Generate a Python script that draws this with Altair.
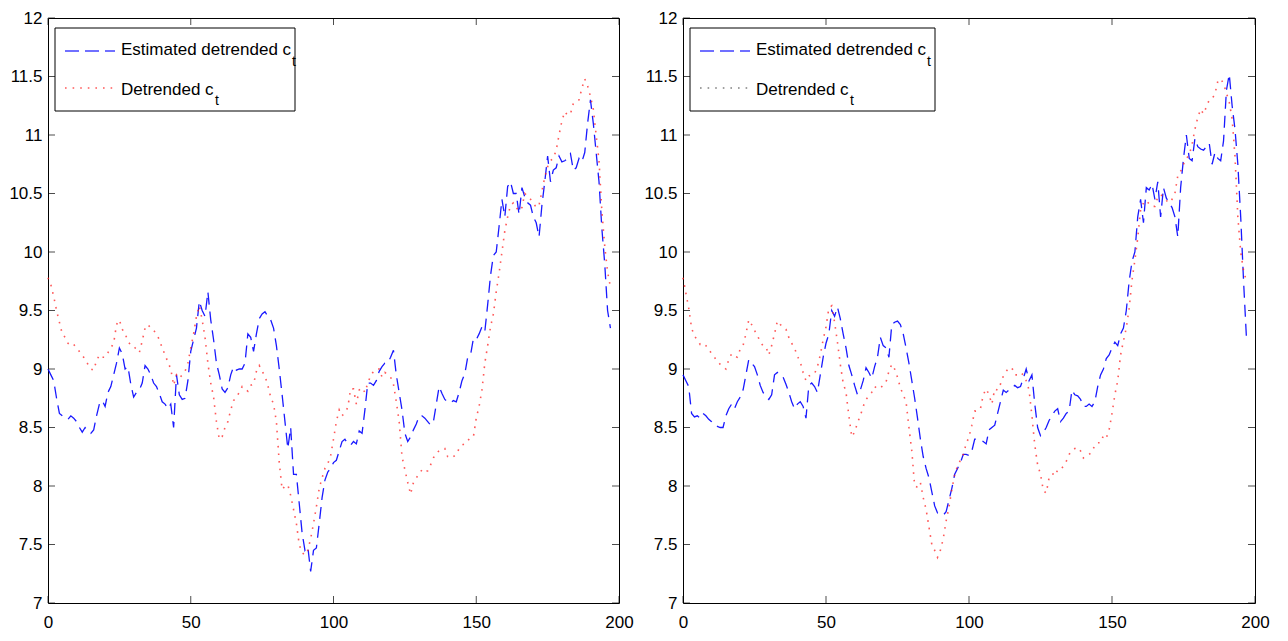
import altair as alt
import pandas as pd

x_idx = list(range(198))

p1_est = [
    9.0, 8.95, 8.9, 8.75, 8.62, 8.6, 8.58, 8.57, 8.6, 8.58,
    8.55, 8.5, 8.46, 8.5, 8.47, 8.45, 8.48, 8.6, 8.7, 8.73,
    8.68, 8.8, 8.85, 8.95, 9.05, 9.18, 9.13, 9.0, 9.02, 8.87,
    8.76, 8.8, 8.82, 8.88, 9.03, 9.0, 8.95, 8.88, 8.85, 8.79,
    8.72, 8.7, 8.66, 8.7, 8.5, 8.95, 8.78, 8.74, 8.75, 8.9,
    9.15, 9.25, 9.35, 9.58, 9.5, 9.45, 9.66, 9.42, 9.25, 9.05,
    8.95, 8.83, 8.8, 8.84, 8.95, 9.02, 8.99, 9.0, 9.0, 9.05,
    9.3, 9.27, 9.15, 9.3, 9.43, 9.47, 9.49, 9.45, 9.42, 9.35,
    9.2, 9.0, 8.78, 8.55, 8.32, 8.5, 8.1, 8.1, 7.85, 7.6,
    7.45, 7.48, 7.27, 7.45, 7.47, 7.68, 7.9, 8.05, 8.12, 8.15,
    8.2, 8.22, 8.3, 8.38, 8.4, 8.36, 8.35, 8.38, 8.36, 8.47,
    8.45, 8.65, 8.88, 8.88, 8.86, 8.9, 8.98, 9.02, 9.05, 9.05,
    9.1, 9.16, 8.95, 8.8, 8.65, 8.45, 8.38, 8.42, 8.48, 8.53,
    8.6, 8.6, 8.58, 8.55, 8.52, 8.55, 8.7, 8.85, 8.79, 8.74,
    8.72, 8.71, 8.73, 8.72, 8.8, 8.9, 8.96, 9.1, 9.12, 9.26,
    9.25, 9.3, 9.36, 9.32, 9.55, 9.8, 9.97, 10.0, 10.22, 10.45,
    10.3, 10.56, 10.6, 10.5, 10.5, 10.32, 10.55, 10.47, 10.42, 10.4,
    10.3, 10.25, 10.13, 10.4, 10.6, 10.82, 10.6, 10.7, 10.72, 10.82,
    10.77, 10.78, 10.8, 10.84, 10.7, 10.72, 10.8, 10.77, 10.85, 11.1,
    11.3, 11.1, 10.85, 10.6, 10.2, 9.9, 9.5, 9.35,
]

p1_det = [
    9.78, 9.72, 9.62, 9.5, 9.4, 9.3, 9.27, 9.22, 9.2, 9.21,
    9.18, 9.15, 9.12, 9.08, 9.04, 9.0, 8.99, 9.07, 9.12, 9.1,
    9.1, 9.14, 9.18, 9.22, 9.38, 9.42, 9.34, 9.3, 9.24, 9.2,
    9.19, 9.17, 9.14, 9.24, 9.35, 9.38, 9.35, 9.33, 9.3, 9.25,
    9.18, 9.12, 9.06, 9.0, 8.86, 8.95, 8.92, 8.95, 8.98, 9.05,
    9.18, 9.3, 9.45, 9.54, 9.42, 9.27, 9.05, 8.88, 8.76, 8.55,
    8.4, 8.42, 8.5, 8.55, 8.65, 8.73, 8.76, 8.8, 8.85, 8.83,
    8.81, 8.86, 8.87, 8.98, 9.03, 8.98, 8.94, 8.86, 8.76, 8.7,
    8.55, 8.2, 7.97, 8.0, 8.01, 7.92, 7.8, 7.68, 7.5, 7.43,
    7.41, 7.45, 7.55, 7.68, 7.82, 7.98, 8.07, 8.15, 8.19, 8.26,
    8.4, 8.55, 8.65, 8.6, 8.63, 8.67, 8.83, 8.83, 8.7, 8.82,
    8.84, 8.8, 8.88, 8.94, 8.98, 9.0, 9.0, 8.93, 8.97, 8.95,
    8.93, 8.87, 8.72, 8.55, 8.25, 8.14, 8.03, 7.93, 8.03, 8.07,
    8.1, 8.14, 8.12, 8.13, 8.18, 8.24, 8.28, 8.3, 8.31, 8.32,
    8.25, 8.24, 8.25, 8.27, 8.32, 8.35, 8.36, 8.39, 8.41, 8.42,
    8.58, 8.68, 8.82, 9.05, 9.2, 9.36, 9.47, 9.66, 9.82, 10.0,
    10.18, 10.3, 10.4, 10.42, 10.38, 10.35, 10.38, 10.5, 10.48, 10.45,
    10.42, 10.38, 10.4, 10.52, 10.64, 10.73, 10.78, 10.8, 10.87, 11.0,
    11.12, 11.2, 11.17, 11.18, 11.27, 11.28, 11.3, 11.4, 11.48, 11.42,
    11.33, 11.22, 11.0, 10.78, 10.35, 10.05, 9.83, 9.7,
]

p2_est = [
    8.95, 8.9, 8.85, 8.62, 8.59, 8.6, 8.58, 8.62, 8.6, 8.57,
    8.55, 8.52, 8.51, 8.5, 8.5, 8.6, 8.66, 8.7, 8.66, 8.72,
    8.76, 8.82, 8.95, 9.08, 9.05, 9.02, 8.95, 8.86, 8.8, 8.76,
    8.74, 8.78, 8.95, 8.97, 8.94, 8.93, 8.87, 8.8, 8.72, 8.66,
    8.7, 8.72, 8.68, 8.58, 8.86, 8.88, 8.85, 8.8, 8.95, 9.1,
    9.22, 9.3, 9.5, 9.45, 9.53, 9.43, 9.3, 9.18, 9.03, 8.95,
    8.86, 8.78, 8.82, 8.9, 9.01, 8.97, 8.92, 9.02, 9.1, 9.27,
    9.2, 9.18, 9.1, 9.38, 9.4, 9.41, 9.38, 9.3, 9.18, 9.05,
    8.9, 8.75, 8.58, 8.4, 8.25, 8.15, 8.07, 7.95, 7.83, 7.77,
    7.76, 7.75, 7.78, 7.88, 7.98, 8.1, 8.15, 8.2, 8.27, 8.27,
    8.26, 8.3, 8.4, 8.4, 8.39, 8.38, 8.36, 8.48, 8.5, 8.52,
    8.62, 8.72, 8.82, 8.8, 8.82, 8.84, 8.86, 8.84, 8.85, 8.92,
    9.0, 8.9, 8.95, 8.7, 8.5, 8.43, 8.46, 8.5, 8.56, 8.6,
    8.64, 8.66, 8.55, 8.58, 8.62, 8.64, 8.82, 8.78, 8.77, 8.74,
    8.68, 8.68, 8.7, 8.68, 8.72, 8.85, 8.95, 9.0, 9.09, 9.12,
    9.18, 9.23, 9.2, 9.3, 9.35, 9.5, 9.75, 9.92, 10.0, 10.3,
    10.45, 10.25, 10.55, 10.53, 10.58, 10.45, 10.6, 10.3, 10.55, 10.46,
    10.42, 10.38, 10.3, 10.13, 10.55, 10.8, 11.0, 10.8, 10.78, 10.97,
    10.9, 10.88, 10.87, 10.9, 10.93, 10.75, 10.85, 10.8, 10.78, 10.95,
    11.38, 11.52, 11.25, 11.05, 10.75, 10.3, 9.75, 9.27,
]

p2_det = [
    9.78, 9.65, 9.52, 9.35, 9.28, 9.25, 9.21, 9.22, 9.2, 9.17,
    9.13, 9.1, 9.07, 9.04, 9.02, 9.0, 9.08, 9.13, 9.11, 9.1,
    9.17, 9.2, 9.3, 9.42, 9.38, 9.33, 9.29, 9.23, 9.2, 9.19,
    9.12, 9.2, 9.3, 9.41, 9.38, 9.36, 9.34, 9.27, 9.22, 9.18,
    9.11, 9.06, 8.97, 8.9, 8.94, 8.95, 8.96, 9.02, 9.12, 9.25,
    9.36, 9.52, 9.54, 9.4, 9.23, 9.04, 8.88, 8.8, 8.6, 8.42,
    8.46, 8.54, 8.6, 8.68, 8.74, 8.77, 8.8, 8.85, 8.83, 8.84,
    8.86, 8.89, 8.98, 9.04, 9.0, 8.93, 8.84, 8.78, 8.72, 8.5,
    8.3, 8.0, 7.99, 8.03, 7.9, 7.8, 7.65, 7.5, 7.45, 7.39,
    7.45, 7.55, 7.7, 7.82, 7.97, 8.1, 8.17, 8.22, 8.27, 8.36,
    8.42, 8.52, 8.64, 8.64, 8.66, 8.78, 8.83, 8.78, 8.7, 8.83,
    8.82, 8.87, 8.94, 8.98, 9.01, 9.01, 8.95, 8.95, 8.97, 8.95,
    8.9, 8.82, 8.6, 8.35, 8.18, 8.1, 7.96, 7.94, 8.07, 8.08,
    8.14, 8.12, 8.14, 8.17, 8.21, 8.27, 8.3, 8.32, 8.33, 8.3,
    8.24, 8.26, 8.27, 8.29, 8.35, 8.37, 8.37, 8.43, 8.41, 8.48,
    8.62, 8.78, 8.9, 9.12, 9.24, 9.35, 9.52, 9.76, 9.93, 10.12,
    10.36, 10.42, 10.44, 10.41, 10.39, 10.39, 10.47, 10.49, 10.47, 10.44,
    10.42, 10.45, 10.5, 10.65, 10.69, 10.75, 10.8, 10.83, 10.92, 11.05,
    11.15, 11.22, 11.18, 11.24, 11.3, 11.31, 11.35, 11.46, 11.48, 11.44,
    11.36, 11.28, 11.14, 10.82, 10.3, 10.0, 9.84, 9.75,
]

ticks_x = [0, 50, 100, 150, 200]
ticks_y = [7, 7.5, 8, 8.5, 9, 9.5, 10, 10.5, 11, 11.5, 12]

label_est = "Estimated detrended c"
label_det = "Detrended c"
label_sub = "t"

H = 585
FONT = "Liberation Sans, Arial, Helvetica, sans-serif"
TICK = 7


def panel(est, det, width, box_right, sample2_color):
    df = pd.DataFrame({"x": x_idx, "est": est, "det": det})
    one = pd.DataFrame({"k": [0]})
    tx = pd.DataFrame({"t": ticks_x})
    ty = pd.DataFrame({"t": ticks_y})
    xs = alt.Scale(domain=[0, 200], nice=False, zero=False)
    ys = alt.Scale(domain=[7, 12], nice=False, zero=False)
    xax = alt.Axis(values=ticks_x, ticks=False, tickSize=0, domain=False,
                   grid=False, labelFont=FONT, labelFontSize=17,
                   labelPadding=11, labelColor="black", title=None,
                   labelFlush=False)
    yax = alt.Axis(values=ticks_y, format="~g", ticks=False, tickSize=0,
                   domain=False, grid=False, labelFont=FONT, labelFontSize=17,
                   labelPadding=6, labelColor="black", title=None,
                   labelFlush=False)

    blue = alt.Chart(df).mark_line(
        color="#0000ff", strokeWidth=1.3, strokeDash=[12, 7], opacity=0.9
    ).encode(
        x=alt.X("x:Q", scale=xs, axis=xax),
        y=alt.Y("est:Q", scale=ys, axis=yax),
    )
    red = alt.Chart(df).mark_line(
        color="#ff2020", strokeWidth=1.6, strokeDash=[1.6, 6], opacity=0.75
    ).encode(
        x=alt.X("x:Q", scale=xs, axis=xax),
        y=alt.Y("det:Q", scale=ys, axis=yax),
    )

    tick_style = dict(color="black", size=TICK, thickness=1)
    bot = alt.Chart(tx).mark_tick(**tick_style).encode(
        x=alt.X("t:Q", scale=xs, axis=xax), y=alt.value(H - TICK / 2))
    top = alt.Chart(tx).mark_tick(**tick_style).encode(
        x=alt.X("t:Q", scale=xs, axis=xax), y=alt.value(TICK / 2))
    left = alt.Chart(ty).mark_tick(**tick_style).encode(
        y=alt.Y("t:Q", scale=ys, axis=yax), x=alt.value(TICK / 2))
    right = alt.Chart(ty).mark_tick(**tick_style).encode(
        y=alt.Y("t:Q", scale=ys, axis=yax), x=alt.value(width - TICK / 2))

    box = alt.Chart(one).mark_rect(fill="white", stroke="black", strokeWidth=1).encode(
        x=alt.value(7), x2=alt.value(box_right), y=alt.value(10), y2=alt.value(93))
    s1 = alt.Chart(one).mark_rule(color="#0000ff", strokeWidth=1.3,
                                  strokeDash=[14, 6], opacity=0.75).encode(
        x=alt.value(17), x2=alt.value(67), y=alt.value(33))
    s2 = alt.Chart(one).mark_rule(color=sample2_color, strokeWidth=1.6,
                                  strokeDash=[1.6, 6], opacity=0.75).encode(
        x=alt.value(17), x2=alt.value(67), y=alt.value(70))
    txt = dict(font=FONT, fontSize=17, align="left", baseline="alphabetic", color="black")
    sub = dict(font=FONT, fontSize=14, align="left", baseline="alphabetic", color="black")
    t1 = alt.Chart(one).mark_text(**txt).encode(
        x=alt.value(73), y=alt.value(37), text=alt.value(label_est))
    t1s = alt.Chart(one).mark_text(**sub).encode(
        x=alt.value(244), y=alt.value(48), text=alt.value(label_sub))
    t2 = alt.Chart(one).mark_text(**txt).encode(
        x=alt.value(73), y=alt.value(77), text=alt.value(label_det))
    t2s = alt.Chart(one).mark_text(**sub).encode(
        x=alt.value(167), y=alt.value(87), text=alt.value(label_sub))

    return alt.layer(blue, red, bot, top, left, right, box, s1, s2, t1, t1s, t2, t2s).properties(
        width=width, height=H)


p1 = panel(p1_est, p1_det, 571, 247, "#ff2020")
p2 = panel(p2_est, p2_det, 572, 252, "#555555")

chart = alt.hconcat(p1, p2, spacing=64, bounds="flush").properties(
    padding={"left": 0, "top": 0, "right": 5, "bottom": 0}
).configure_view(stroke="black", strokeWidth=1)

chart.save("out.html", embed_options={"renderer": "svg", "actions": False})
